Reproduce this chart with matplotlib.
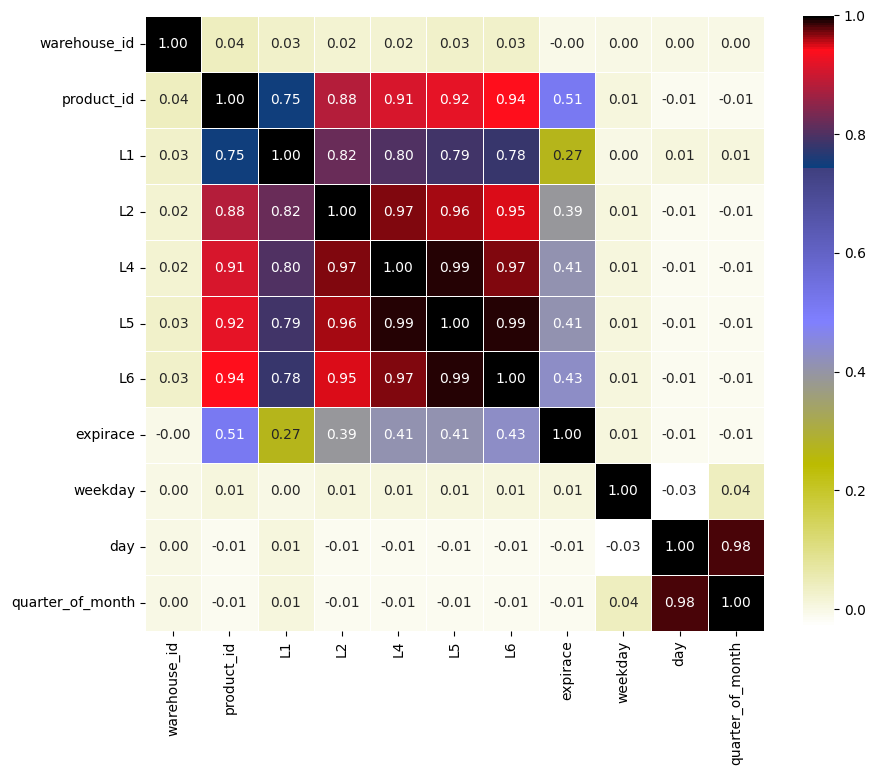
import matplotlib
matplotlib.use("Agg")
import matplotlib.pyplot as plt
import seaborn as sns
import numpy as np
import pandas as pd

labels = ["warehouse_id", "product_id", "L1", "L2", "L4", "L5", "L6",
          "expirace", "weekday", "day", "quarter_of_month"]

warehouse_id = [1.00, 0.04, 0.03, 0.02, 0.02, 0.03, 0.03, -0.004, 0.00, 0.00, 0.00]
product_id = [0.04, 1.00, 0.75, 0.88, 0.91, 0.92, 0.94, 0.51, 0.01, -0.01, -0.01]
l1 = [0.03, 0.75, 1.00, 0.82, 0.80, 0.79, 0.78, 0.27, 0.00, 0.01, 0.01]
l2 = [0.02, 0.88, 0.82, 1.00, 0.97, 0.96, 0.95, 0.39, 0.01, -0.01, -0.01]
l4 = [0.02, 0.91, 0.80, 0.97, 1.00, 0.99, 0.97, 0.41, 0.01, -0.01, -0.01]
l5 = [0.03, 0.92, 0.79, 0.96, 0.99, 1.00, 0.99, 0.41, 0.01, -0.01, -0.01]
l6 = [0.03, 0.94, 0.78, 0.95, 0.97, 0.99, 1.00, 0.43, 0.01, -0.01, -0.01]
expirace = [-0.004, 0.51, 0.27, 0.39, 0.41, 0.41, 0.43, 1.00, 0.01, -0.01, -0.01]
weekday = [0.00, 0.01, 0.00, 0.01, 0.01, 0.01, 0.01, 0.01, 1.00, -0.03, 0.04]
day = [0.00, -0.01, 0.01, -0.01, -0.01, -0.01, -0.01, -0.01, -0.03, 1.00, 0.98]
quarter_of_month = [0.00, -0.01, 0.01, -0.01, -0.01, -0.01, -0.01, -0.01, 0.04, 0.98, 1.00]

corr = pd.DataFrame([warehouse_id, product_id, l1, l2, l4, l5, l6,
                     expirace, weekday, day, quarter_of_month],
                    index=labels, columns=labels)

fig = plt.figure(figsize=(8.75, 7.75), dpi=100)
ax = fig.add_axes([0.1657, 0.1858, 0.7074, 0.7935])
cax = fig.add_axes([0.9177, 0.191, 0.0354, 0.789])
sns.heatmap(corr, annot=True, fmt=".2f", cmap="gist_stern_r", linewidths=0.5,
            ax=ax, cbar_ax=cax)
plt.savefig("out.png")
plt.close()
